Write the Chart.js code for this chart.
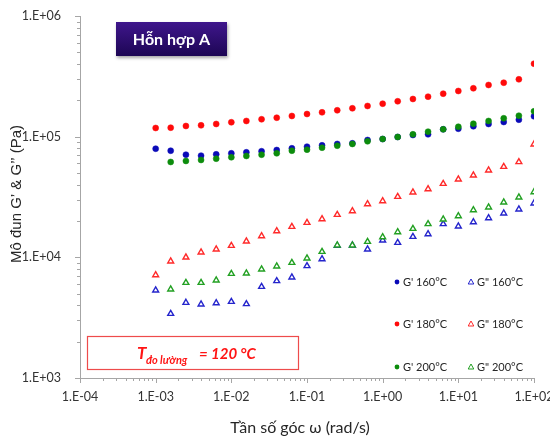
<!DOCTYPE html>
<html>
<head>
<meta charset="utf-8">
<script src="https://cdn.jsdelivr.net/npm/chart.js@4.4.1/dist/chart.umd.min.js"></script>
<style>
  html, body { margin: 0; padding: 0; background: #fff; }
  #wrap { width: 550px; height: 437px; position: relative; }
</style>
</head>
<body>
<div id="wrap"><canvas id="chart"></canvas></div>
<script>
// angular frequency (rad/s)
const freq = [0.001, 0.00158, 0.00251, 0.00398, 0.00631, 0.01, 0.0158, 0.0251, 0.0398, 0.0631,
  0.1, 0.158, 0.251, 0.398, 0.631, 1, 1.58, 2.51, 3.98, 6.31, 10, 15.8, 25.1, 39.8, 63.1, 100];

// moduli (Pa)
const gp160 = [79500, 76500, 70900, 69600, 71400, 72800, 74200, 75700, 77500, 80100, 82600, 84800, 87000,
  88100, 93800, 95600, 99400, 103200, 104600, 115100, 116400, 121900, 127400, 132300, 138200, 147500];
const gpp160 = [5330, 3410, 4210, 4080, 4180, 4290, 4110, 5710, 6370, 6830, 8480, 9690, 12490,
  12580, 11660, 13840, 13220, 14830, 15610, 18900, 18080, 19620, 21180, 23170, 25010, 28040];
const gp180 = [118000, 118700, 122600, 124200, 127400, 131600, 134900, 139300, 143600, 148400, 154100, 159200, 165400,
  171800, 179600, 187600, 196400, 205200, 214400, 227100, 239100, 251700, 268100, 280100, 298800, 402400];
const gpp180 = [7140, 9270, 10000, 11010, 11660, 12490, 13580, 15020, 16530, 17950, 19360, 20780, 22560,
  24210, 27670, 29310, 31800, 34590, 36840, 40770, 44330, 47860, 52640, 56380, 61700, 86500];
const gp200 = [null, 61700, 62900, 64100, 65700, 67500, 69200, 70900, 72800, 76500, 78000, 81000, 84200,
  87000, 91500, 95600, 99400, 104600, 110000, 115100, 120900, 128100, 134900, 142000, 149200, 162300];
const gpp200 = [null, 5440, 6160, 6160, 6450, 7320, 7380, 7960, 8430, 9030, 9820, 11140, 12580,
  12580, 13480, 14740, 16220, 17270, 18900, 20660, 22000, 24680, 25980, 28580, 31450, 34790];

const xTicks = [1e-4, 1e-3, 1e-2, 1e-1, 1, 10, 100];
const xTickLabels = ['1.E-04', '1.E-03', '1.E-02', '1.E-01', '1.E+00', '1.E+01', '1.E+02'];
const yTicks = [1e3, 1e4, 1e5, 1e6];
const yTickLabels = ['1.E+03', '1.E+04', '1.E+05', '1.E+06'];

function pts(arr) {
  return freq.map((f, i) => ({ x: f, y: arr[i] })).filter(p => p.y != null);
}

function majorLabel(v, ticks, labels) {
  for (let i = 0; i < ticks.length; i++) {
    if (Math.abs(Math.log10(v) - Math.log10(ticks[i])) < 1e-6) return labels[i];
  }
  return '';
}

function dots(label, arr, color, order) {
  return {
    label: label, data: pts(arr), order: order,
    pointStyle: 'circle', pointRadius: 3, pointBorderWidth: 0.5,
    backgroundColor: color, borderColor: color, showLine: false
  };
}

function tris(label, arr, color, order) {
  return {
    label: label, data: pts(arr), order: order,
    pointStyle: 'triangle', pointRadius: 3.4, pointBorderWidth: 1.4,
    backgroundColor: '#ffffff', borderColor: color, showLine: false
  };
}

const datasets = [
  dots("G' 160°C", gp160, '#0a0ab8', 4),
  tris('G" 160°C', gpp160, '#2424cc', 5),
  dots("G' 180°C", gp180, '#ff0a0a', 2),
  tris('G" 180°C', gpp180, '#ff2a2a', 3),
  dots("G' 200°C", gp200, '#0c8c0c', 0),
  tris('G" 200°C', gpp200, '#22a022', 1)
];

const decor = {
  id: 'decor',
  afterDraw(chart) {
    const ctx = chart.ctx;
    const a = chart.chartArea;
    const xs = chart.scales.x, ys = chart.scales.y;
    ctx.save();

    // tick marks
    ctx.strokeStyle = '#a6a6a6';
    ctx.lineWidth = 1;
    ctx.beginPath();
    for (let i = 0; i < yTicks.length; i++) {
      for (let m = 1; m <= (i < yTicks.length - 1 ? 9 : 1); m++) {
        const py = Math.round(ys.getPixelForValue(yTicks[i] * m)) + 0.5;
        const len = m === 1 ? 5 : 3;
        ctx.moveTo(a.left - len, py);
        ctx.lineTo(a.left, py);
      }
    }
    for (let i = 0; i < xTicks.length; i++) {
      for (let m = 1; m <= (i < xTicks.length - 1 ? 9 : 1); m++) {
        const px = Math.round(xs.getPixelForValue(xTicks[i] * m)) + 0.5;
        const len = m === 1 ? 5 : 3;
        ctx.moveTo(px, a.bottom);
        ctx.lineTo(px, a.bottom + len);
      }
    }
    ctx.stroke();

    // axis titles
    ctx.fillStyle = '#262626';
    ctx.textAlign = 'center';
    ctx.textBaseline = 'middle';
    ctx.font = '16px Lato';
    ctx.fillText('Tần số góc ω (rad/s)', 300, 428);
    ctx.save();
    ctx.translate(17, 194);
    ctx.rotate(-Math.PI / 2);
    ctx.font = '15px "Liberation Sans"';
    ctx.fillText('Mô đun G’ & G’’ (Pa)', 0, 0);
    ctx.restore();

    // legend, 2 columns x 3 rows
    const colX = [397, 471];
    const rowY = [282, 324, 367];
    ctx.font = '11px Lato';
    ctx.textAlign = 'left';
    chart.data.datasets.forEach((ds, i) => {
      const cx = colX[i % 2], cy = rowY[Math.floor(i / 2)];
      ctx.fillStyle = ds.borderColor;
      ctx.strokeStyle = ds.borderColor;
      if (ds.pointStyle === 'circle') {
        ctx.beginPath();
        ctx.arc(cx, cy, 2.4, 0, Math.PI * 2);
        ctx.fill();
      } else {
        ctx.lineWidth = 1;
        ctx.beginPath();
        ctx.moveTo(cx, cy - 3);
        ctx.lineTo(cx + 2.8, cy + 2);
        ctx.lineTo(cx - 2.8, cy + 2);
        ctx.closePath();
        ctx.stroke();
      }
      ctx.fillStyle = '#262626';
      ctx.fillText(ds.label, cx + 6, cy + 0.5);
    });

    // title badge
    ctx.save();
    ctx.shadowColor = 'rgba(0,0,0,0.35)';
    ctx.shadowBlur = 3;
    ctx.shadowOffsetX = 1;
    ctx.shadowOffsetY = 2;
    const g = ctx.createLinearGradient(0, 22, 0, 56);
    g.addColorStop(0, '#3f168c');
    g.addColorStop(1, '#1d0654');
    ctx.fillStyle = g;
    ctx.fillRect(116, 22, 111, 34);
    ctx.restore();
    ctx.fillStyle = '#ffffff';
    ctx.textAlign = 'center';
    ctx.font = 'bold 16px Lato';
    ctx.fillText('Hỗn hợp A', 171.5, 40);

    // measuring temperature box
    ctx.fillStyle = '#ffffff';
    ctx.fillRect(87.5, 336.5, 211, 33);
    ctx.strokeStyle = '#ee4b4b';
    ctx.lineWidth = 1.2;
    ctx.strokeRect(87.5, 336.5, 211, 33);
    ctx.fillStyle = '#ff1414';
    ctx.textAlign = 'left';
    ctx.textBaseline = 'alphabetic';
    ctx.font = 'italic bold 17px Lato';
    ctx.fillText('T', 137, 358.5);
    ctx.font = 'italic bold 11px Lato';
    ctx.fillText('đo lường', 146, 363.5);
    ctx.font = 'italic bold 15px Lato';
    ctx.fillText('= 120 °C', 199, 358.5);

    ctx.restore();
  }
};

new Chart(document.getElementById('chart'), {
  type: 'scatter',
  data: { datasets: datasets },
  options: {
    responsive: true,
    maintainAspectRatio: false,
    animation: false,
    layout: { padding: { left: 0, right: 16, top: 16, bottom: 0 } },
    plugins: {
      legend: { display: false },
      tooltip: { enabled: false }
    },
    scales: {
      x: {
        type: 'logarithmic',
        min: 1e-4,
        max: 1e2,
        grid: { display: false },
        border: { display: true, color: '#a6a6a6', width: 1 },
        ticks: {
          autoSkip: false,
          maxRotation: 0,
          padding: 3,
          color: '#333333',
          font: { family: 'Lato', size: 12.5 },
          callback: function(v) { return majorLabel(v, xTicks, xTickLabels); }
        },
        afterFit: function(s) {
          s.height = 59;
          s.paddingLeft = 0;
          s.paddingRight = 0;
        }
      },
      y: {
        type: 'logarithmic',
        min: 1e3,
        max: 1e6,
        grid: { display: false },
        border: { display: true, color: '#a6a6a6', width: 1 },
        ticks: {
          autoSkip: false,
          padding: 11,
          color: '#333333',
          font: { family: 'Lato', size: 12.5 },
          callback: function(v) { return majorLabel(v, yTicks, yTickLabels); }
        },
        afterFit: function(s) {
          s.width = 80;
          s.paddingTop = 0;
          s.paddingBottom = 0;
        }
      }
    }
  },
  plugins: [decor]
});
</script>
</body>
</html>
